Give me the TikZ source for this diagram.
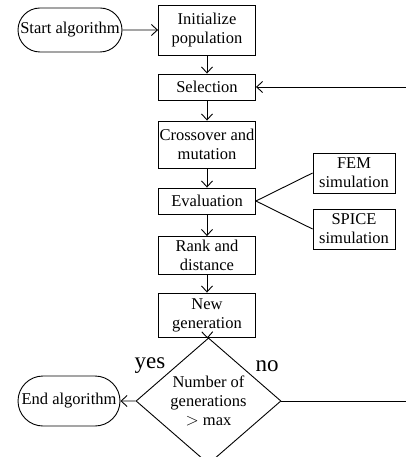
\documentclass[tikz,border=0pt]{standalone}
\usepackage{fontspec}
\setmainfont{Liberation Serif}
\usepackage{tikz}
\usetikzlibrary{arrows.meta,shapes.geometric,shapes.misc}
\tikzset{
    flow-box/.style = {draw, rectangle, minimum width=97pt, inner sep=0pt, align=center, font=\fontsize{16.5}{19}\selectfont},
    term-box/.style = {draw, rounded rectangle, minimum width=104pt, inner sep=0pt, align=center, font=\fontsize{16.5}{19}\selectfont},
    decision-box/.style = {draw, diamond, minimum width=145pt, minimum height=95pt, inner sep=0pt, align=center, font=\fontsize{16.5}{19}\selectfont},
    flow-arrow/.style = {-{Straight Barb[length=6pt,width=11pt]}},
    answer/.style = {font=\fontsize{23}{24}\selectfont},
}

\begin{document}
\begin{tikzpicture}[x=1pt, y=-1pt, line width=0.9pt]
\useasboundingbox (0,0) rectangle (406,457);
\node [term-box, minimum height=44pt] (start) at (70,30) {Start algorithm};
\node [flow-box, minimum height=50pt] (init) at (207,30) {Initialize\\population};
\node [flow-box, minimum height=26pt] (select) at (207,87) {Selection};
\node [flow-box, minimum height=47pt] (cross) at (207,144.5) {Crossover and\\mutation};
\node [flow-box, minimum height=26pt] (eval) at (207,201) {Evaluation};
\node [flow-box, minimum width=82pt, minimum height=40pt] (fem) at (354,173) {FEM\\simulation};
\node [flow-box, minimum width=82pt, minimum height=40pt] (spice) at (354,229) {SPICE\\simulation};
\node [flow-box, minimum height=38pt] (rank) at (207,255.5) {Rank and\\distance};
\node [flow-box, minimum height=44pt] (newgen) at (207,315) {New\\generation};
\node [decision-box] (check) at (208.5,401) {Number of\\generations\\$>$ max};
\node [term-box, minimum width=102pt, minimum height=50pt] (end) at (69,401) {End algorithm};
\node [answer] (yes) at (150,366) {yes};
\node [answer] (no) at (267,366) {no};
\coordinate (loop-in) at (406,87);
\coordinate (loop-out) at (406,401);

\draw [flow-arrow] (start) -- (init);
\draw [flow-arrow] (init) -- (select);
\draw [flow-arrow] (select) -- (cross);
\draw [flow-arrow] (cross) -- (eval);
\draw [flow-arrow] (eval) -- (rank);
\draw [flow-arrow] (rank) -- (newgen);
\draw [flow-arrow] (newgen) -- (check);
\draw [flow-arrow] (check) -- (end);
\draw [flow-arrow] (loop-in) -- (select);
\draw (check) -- (loop-out);
\draw (eval.east) -- (fem.west);
\draw (eval.east) -- (spice.west);
\end{tikzpicture}
\end{document}
